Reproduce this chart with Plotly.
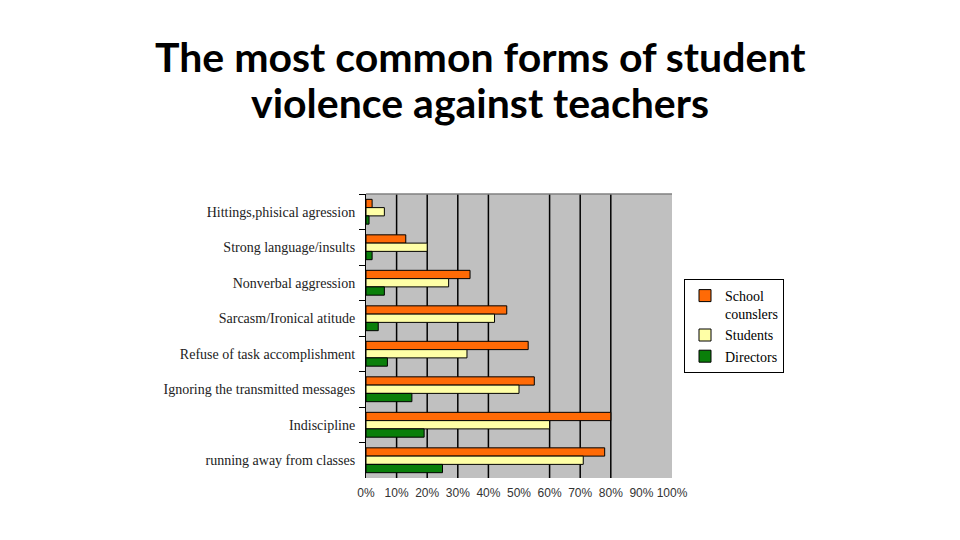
import plotly.graph_objects as go

categories = [
    "Hittings,phisical agression",
    "Strong language/insults",
    "Nonverbal aggression",
    "Sarcasm/Ironical atitude",
    "Refuse of task accomplishment",
    "Ignoring the transmitted messages",
    "Indiscipline",
    "running away from classes",
]
school_counselors = [2, 13, 34, 46, 53, 55, 80, 78]
students = [6, 20, 27, 42, 33, 50, 60, 71]
directors = [1, 2, 6, 4, 7, 15, 19, 25]
x_ticks = [0, 10, 20, 30, 40, 50, 60, 70, 80, 90, 100]
x_tick_labels = [f"{v}%" for v in x_ticks]
grid_values = [10, 20, 30, 40, 60, 70, 80]
title_lines = ["The most common forms of student", "violence against teachers"]

series = [
    ("School<br>counslers", school_counselors, "#ff6a06"),
    ("Students", students, "#ffffa6"),
    ("Directors", directors, "#0a7f0a"),
]

fig = go.Figure()
for name, vals, color in series:
    fig.add_trace(go.Bar(
        y=categories, x=vals, name=name, orientation="h",
        marker=dict(color=color, line=dict(color="black", width=1)),
    ))

# page body has an 8px margin, so layout coords are shifted by 8px
L, R, T, B = 358, 296, 186, 70
W, H = 960, 540
pw, ph = W - L - R, H - T - B

shapes = [dict(type="line", xref="x", yref="paper", x0=v, x1=v, y0=0, y1=1,
               layer="below", line=dict(color="black", width=1.5))
          for v in grid_values]
shapes.append(dict(type="line", xref="paper", yref="paper", x0=0, x1=1, y0=1, y1=1,
                   line=dict(color="#808080", width=1.5)))

title_y = [48, 94]
annotations = [dict(text=t, xref="paper", yref="paper",
                    x=(472 - L) / pw, y=(H - B - yy) / ph,
                    xanchor="center", yanchor="middle", showarrow=False,
                    font=dict(family="Lato", size=41, color="black", weight="bold"))
               for t, yy in zip(title_lines, title_y)]

fig.update_layout(
    width=W, height=H,
    margin=dict(l=L, r=R, t=T, b=B, pad=0),
    paper_bgcolor="white",
    plot_bgcolor="#c0c0c0",
    barmode="group",
    bargap=0.3,
    bargroupgap=0,
    xaxis=dict(
        range=[0, 100], tickvals=x_ticks, ticktext=x_tick_labels,
        showgrid=False, zeroline=False, showline=False,
        ticks="", tickfont=dict(family="Liberation Sans", size=12, color="#333"),
        ticklabelstandoff=6, fixedrange=True,
    ),
    yaxis=dict(
        autorange="reversed", showgrid=False, zeroline=False,
        showline=True, linecolor="black", linewidth=1,
        ticks="outside", ticklen=6, tickcolor="black", tickson="boundaries",
        tickfont=dict(family="Liberation Serif", size=14, color="#222"),
        ticklabelstandoff=7,
    ),
    legend=dict(
        x=(676 - L) / pw, y=(H - B - 271) / ph, xanchor="left", yanchor="top",
        bordercolor="black", borderwidth=1, bgcolor="white",
        font=dict(family="Liberation Serif", size=14, color="black"),
        traceorder="normal", itemwidth=30, tracegroupgap=0, valign="top",
    ),
    showlegend=True,
    shapes=shapes,
    annotations=annotations,
)

fig.write_html("out.html")
